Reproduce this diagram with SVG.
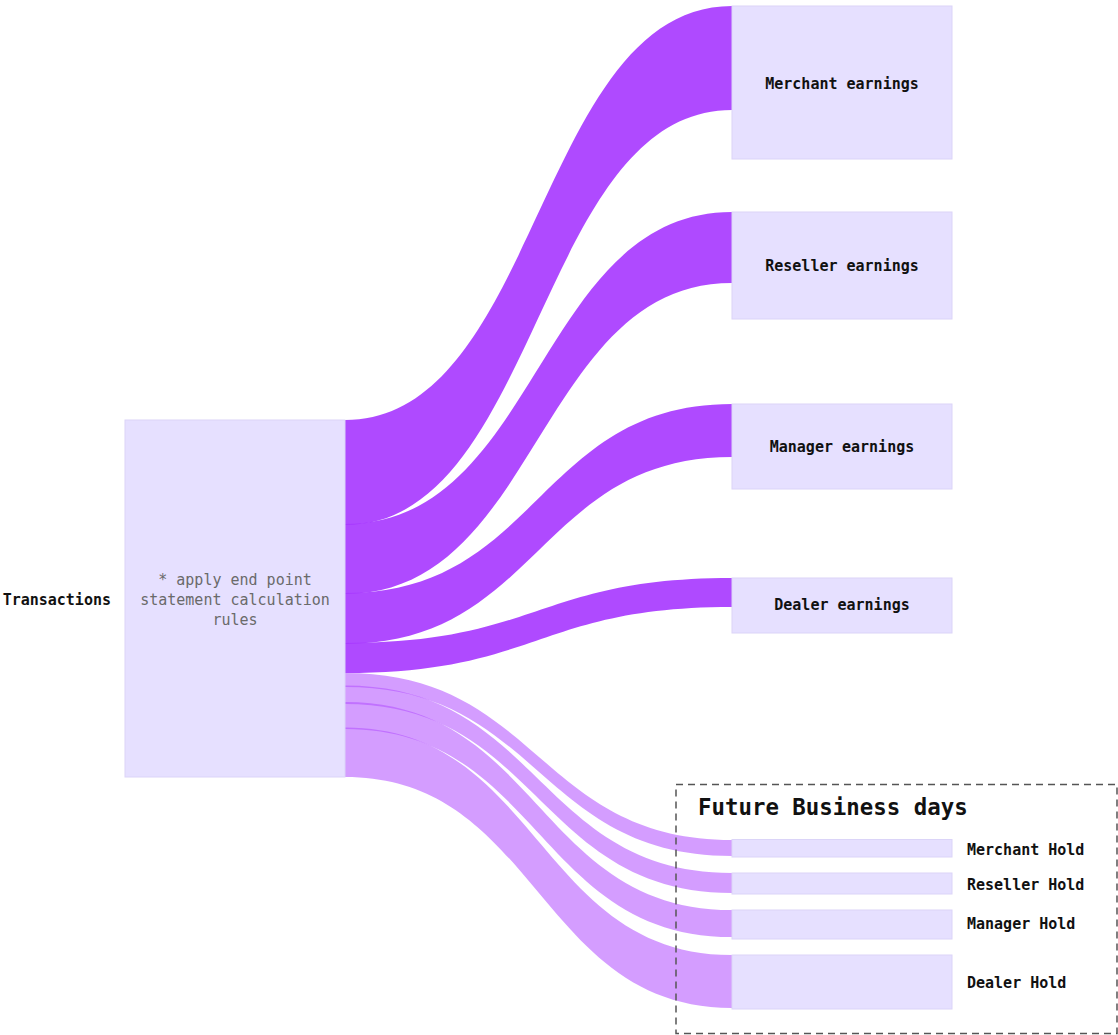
<svg xmlns="http://www.w3.org/2000/svg" width="1118" height="1035" viewBox="0 0 1118 1035">
<style>
.node{fill:#e6e0ff;stroke:#dbd4f8;stroke-width:1}
.lbl{font-family:"DejaVu Sans Mono","Liberation Mono",monospace;font-size:15px;font-weight:bold;fill:#111;dominant-baseline:central}
.note{font-family:"DejaVu Sans Mono","Liberation Mono",monospace;font-size:15px;fill:#6a6a6a;text-anchor:middle;dominant-baseline:central}
.strong{fill:#a636ff;fill-opacity:0.9}
.light{fill:#b04cff;fill-opacity:0.55}
.title{font-family:"DejaVu Sans Mono","Liberation Mono",monospace;font-size:22.4px;font-weight:bold;fill:#111;dominant-baseline:central}
</style>
<rect width="1118" height="1035" fill="#ffffff"/>
<g id="connectors">
<path class="strong" d="M345 420 C538.5 420 538.5 6 732 6 L732 110 C538.5 110 538.5 525 345 525 Z"/>
<path class="strong" d="M345 524 C538.5 524 538.5 212 732 212 L732 283 C538.5 283 538.5 594 345 594 Z"/>
<path class="strong" d="M345 593 C538.5 593 538.5 404 732 404 L732 457 C538.5 457 538.5 644 345 644 Z"/>
<path class="strong" d="M345 643 C538.5 643 538.5 578 732 578 L732 607 C538.5 607 538.5 673 345 673 Z"/>
<path class="light" d="M345 673 C538.5 673 538.5 840 732 840 L732 856 C538.5 856 538.5 687 345 687 Z"/>
<path class="light" d="M345 685.5 C538.5 685.5 538.5 873 732 873 L732 893 C538.5 893 538.5 704 345 704 Z"/>
<path class="light" d="M345 702 C538.5 702 538.5 910 732 910 L732 937 C538.5 937 538.5 729 345 729 Z"/>
<path class="light" d="M345 727.5 C538.5 727.5 538.5 955 732 955 L732 1008 C538.5 1008 538.5 777 345 777 Z"/>
</g>
<g id="group-future">
<rect x="676" y="784.5" width="441" height="249" fill="none" stroke="#555" stroke-width="1.5" stroke-dasharray="7 5"/>
<text class="title" x="698" y="807">Future Business days</text>
</g>
<g id="node-transactions">
<rect class="node" x="125" y="420" width="220" height="357"/>
<text class="lbl" x="111" y="600" text-anchor="end">Transactions</text>
<text class="note" x="235" y="580">* apply end point</text>
<text class="note" x="235" y="600">statement calculation</text>
<text class="note" x="235" y="620">rules</text>
</g>
<g id="node-merchant-earnings">
<rect class="node" x="732" y="6" width="220" height="153"/>
<text class="lbl" x="842" y="84" text-anchor="middle">Merchant earnings</text>
</g>
<g id="node-reseller-earnings">
<rect class="node" x="732" y="212" width="220" height="107"/>
<text class="lbl" x="842" y="266" text-anchor="middle">Reseller earnings</text>
</g>
<g id="node-manager-earnings">
<rect class="node" x="732" y="404" width="220" height="85"/>
<text class="lbl" x="842" y="447" text-anchor="middle">Manager earnings</text>
</g>
<g id="node-dealer-earnings">
<rect class="node" x="732" y="578" width="220" height="55"/>
<text class="lbl" x="842" y="605" text-anchor="middle">Dealer earnings</text>
</g>
<g id="node-merchant-hold">
<rect class="node" x="732" y="839.5" width="220" height="17.5"/>
<text class="lbl" x="967" y="850">Merchant Hold</text>
</g>
<g id="node-reseller-hold">
<rect class="node" x="732" y="873" width="220" height="21"/>
<text class="lbl" x="967" y="885">Reseller Hold</text>
</g>
<g id="node-manager-hold">
<rect class="node" x="732" y="910" width="220" height="29"/>
<text class="lbl" x="967" y="924">Manager Hold</text>
</g>
<g id="node-dealer-hold">
<rect class="node" x="732" y="955" width="220" height="54"/>
<text class="lbl" x="967" y="983">Dealer Hold</text>
</g>
</svg>
